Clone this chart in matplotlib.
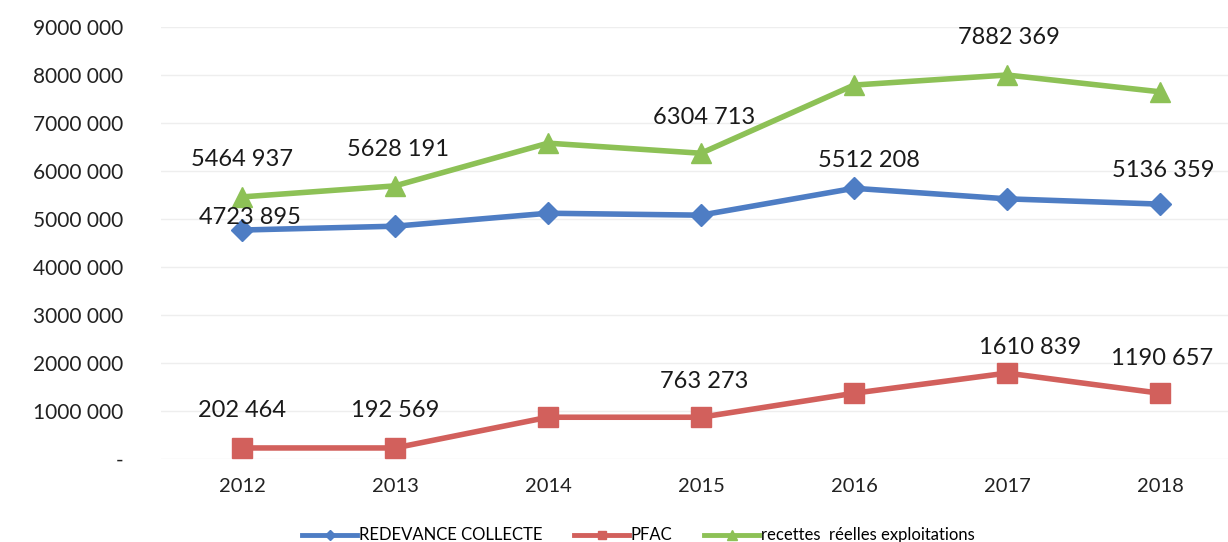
import matplotlib
matplotlib.use("Agg")
import matplotlib.pyplot as plt
from matplotlib.ticker import FuncFormatter

plt.rcParams['font.family'] = ['Lato', 'DejaVu Sans']

years = ['2012', '2013', '2014', '2015', '2016', '2017', '2018']
redevance = [4770000, 4850000, 5120000, 5080000, 5640000, 5420000, 5310000]
pfac = [230000, 230000, 870000, 870000, 1370000, 1790000, 1370000]
recettes = [5460000, 5690000, 6580000, 6370000, 7790000, 8000000, 7650000]

series_names = ['REDEVANCE COLLECTE', 'PFAC', 'recettes  réelles exploitations']

# data labels: (index, text, dx px, dy px)
lab_redevance = [(0, '4723 895', 8, 13), (4, '5512 208', 15, 28), (6, '5136 359', 3, 34)]
lab_pfac = [(0, '202 464', 0, 37), (1, '192 569', 0, 37), (3, '763 273', 3, 36),
            (5, '1610 839', 23, 26), (6, '1190 657', 2, 35)]
lab_recettes = [(0, '5464 937', 0, 37), (1, '5628 191', 3, 36), (3, '6304 713', 3, 36),
                (5, '7882 369', 2, 37)]

blue = '#4e7dc4'
red = '#d2605c'
green = '#8dc156'

fig = plt.figure(figsize=(12.28, 5.42), dpi=100)
ax = fig.add_axes([161/1228, 1-459/542, 1-161/1228, (459-27)/542])

x = list(range(len(years)))
ax.plot(x, redevance, color=blue, lw=4, marker='D', ms=11, label=series_names[0], zorder=3)
ax.plot(x, pfac, color=red, lw=4, marker='s', ms=14, label=series_names[1], zorder=3)
ax.plot(x, recettes, color=green, lw=4, marker='^', ms=15, label=series_names[2], zorder=3)

px = 0.72
for vals, labs in ((redevance, lab_redevance), (pfac, lab_pfac), (recettes, lab_recettes)):
    for i, t, dx, dy in labs:
        ax.annotate(t, (i, vals[i]), xytext=(dx*px, dy*px), textcoords='offset points',
                    ha='center', va='center', fontsize=17, color='#1a1a1a', zorder=4)

ax.set_xlim(-81/153, (1228-242)/153)
ax.set_ylim(0, 9000000)
ax.set_yticks(range(0, 9000001, 1000000))
ax.yaxis.set_major_formatter(FuncFormatter(
    lambda v, p: '-' if v == 0 else f"{int(v)//1000} {int(v)%1000:03d}"))
ax.set_xticks(x)
ax.set_xticklabels(years)
ax.tick_params(axis='y', length=0, pad=27, labelsize=15, labelcolor='#222222')
ax.tick_params(axis='x', length=0, pad=14, labelsize=14.5, labelcolor='#222222')
ax.grid(axis='y', color='#eeeeee', lw=1)
ax.set_axisbelow(True)
for s in ax.spines.values():
    s.set_visible(False)

leg = fig.legend(loc='center', bbox_to_anchor=(0.52, 0.012), ncol=3, frameon=False,
                 fontsize=12, handlelength=3.3, columnspacing=1.9, handletextpad=0.1,
                 markerscale=0.45)
for h in leg.get_lines():
    h.set_linewidth(3.5)

fig.savefig('out.png', dpi=100)
